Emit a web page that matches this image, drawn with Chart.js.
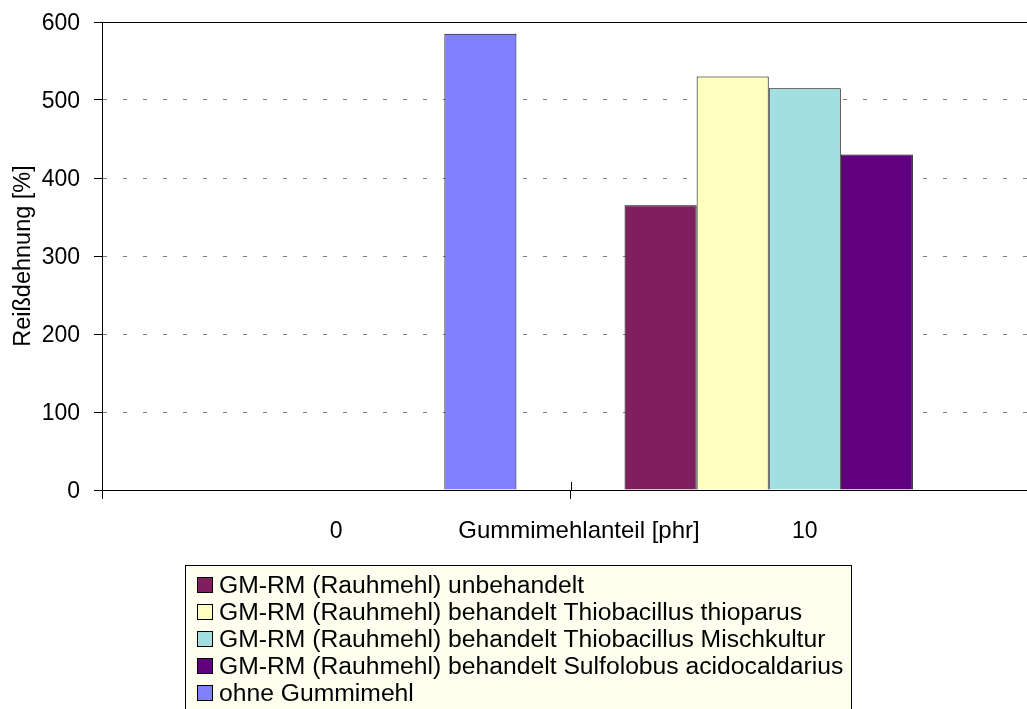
<!DOCTYPE html>
<html>
<head>
<meta charset="utf-8">
<script src="https://cdn.jsdelivr.net/npm/chart.js@4.4.1/dist/chart.umd.min.js"></script>
<style>
    body { margin: 0; overflow: hidden; background: #fff; }
    #wrap { width: 1060px; height: 709px; }
</style>
</head>
<body>
<div id="wrap"><canvas id="chartDehnung" width="1060" height="709"></canvas></div>
<script>
const categorias = ['0', '10'];
const tituloX = 'Gummimehlanteil [phr]';
const tituloY = 'Reißdehnung [%]';

const nomesSeries = [
    'GM-RM (Rauhmehl) unbehandelt',
    'GM-RM (Rauhmehl) behandelt Thiobacillus thioparus',
    'GM-RM (Rauhmehl) behandelt Thiobacillus Mischkultur',
    'GM-RM (Rauhmehl) behandelt Sulfolobus acidocaldarius',
    'ohne Gummimehl'
];
const unbehandelt = [null, 365];
const thioparus = [null, 530];
const mischkultur = [null, 515];
const sulfolobus = [null, 430];
const ohneGummimehl = [585, null];

const coresSeries = ['#7F1F5F', '#FFFFC0', '#A2E0E0', '#600080', '#8080FF'];

const yMin = 0;
const yMax = 600;
const yPasso = 100;

const valores = [unbehandelt, thioparus, mischkultur, sulfolobus, ohneGummimehl];

const fonte = 'Liberation Sans, Arial, sans-serif';

// linha de cima, marcas do eixo x para dentro, titulo do eixo x e legenda
const extras = {
    id: 'extras',
    afterDraw(chart) {
        const ctx = chart.ctx;
        const area = chart.chartArea;
        const xs = chart.scales.x;
        ctx.save();
        ctx.strokeStyle = '#000';
        ctx.lineWidth = 1;
        ctx.beginPath();
        ctx.moveTo(area.left, area.top + 0.5);
        ctx.lineTo(chart.width, area.top + 0.5);
        const largura = (xs.right - xs.left) / categorias.length;
        for (let i = 0; i <= categorias.length; i++) {
            const px = Math.round(xs.left + i * largura) + 0.5;
            ctx.moveTo(px, area.bottom - 8);
            ctx.lineTo(px, area.bottom);
        }
        ctx.stroke();

        ctx.fillStyle = '#000';
        ctx.font = '24px ' + fonte;
        ctx.textAlign = 'center';
        ctx.textBaseline = 'alphabetic';
        ctx.fillText(tituloX, 579, 538);

        // legenda
        const lx = 185, ly = 565, lw = 666, lh = 160;
        ctx.fillStyle = '#FFFFF0';
        ctx.fillRect(lx, ly, lw, lh);
        ctx.strokeRect(lx + 0.5, ly + 0.5, lw, lh);
        ctx.textAlign = 'left';
        ctx.font = '24.7px ' + fonte;
        chart.data.datasets.forEach((ds, i) => {
            const cy = 584 + i * 27;
            ctx.fillStyle = ds.backgroundColor;
            ctx.fillRect(197, cy - 7, 16, 16);
            ctx.strokeStyle = '#000';
            ctx.strokeRect(197.5, cy - 6.5, 15, 15);
            ctx.fillStyle = '#000';
            ctx.fillText(ds.label, 219, cy + 8.5);
        });
        ctx.restore();
    }
};

const ctx = document.getElementById('chartDehnung').getContext('2d');

new Chart(ctx, {
    type: 'bar',
    data: {
        labels: categorias,
        datasets: nomesSeries.map((nome, i) => ({
            label: nome,
            data: valores[i],
            backgroundColor: coresSeries[i],
            borderColor: '#000',
            borderWidth: 1,
            categoryPercentage: 5 / 6.5,
            barPercentage: 1
        }))
    },
    options: {
        responsive: false,
        animation: false,
        layout: { padding: { top: 22, right: 21, left: 0, bottom: 0 } },
        plugins: {
            legend: { display: false },
            tooltip: { enabled: false }
        },
        scales: {
            x: {
                afterFit: scale => { scale.height = 219; },
                grid: {
                    drawOnChartArea: false,
                    tickLength: 9,
                    tickColor: '#000',
                    offset: true
                },
                border: { color: '#000', width: 1 },
                ticks: {
                    color: '#000',
                    padding: 19,
                    font: { family: fonte, size: 23 }
                }
            },
            y: {
                min: yMin,
                max: yMax,
                afterFit: scale => { scale.width = 102; },
                grid: {
                    color: c => (c.tick && (c.tick.value === yMin || c.tick.value === yMax)) ? 'rgba(0,0,0,0)' : '#808080',
                    tickColor: '#000',
                    tickLength: 8
                },
                border: { color: '#000', width: 1, dash: [4, 16] },
                ticks: {
                    stepSize: yPasso,
                    color: '#000',
                    padding: 14,
                    labelOffset: 2,
                    font: { family: fonte, size: 23, lineHeight: 0.6 }
                },
                title: {
                    display: true,
                    text: tituloY,
                    color: '#000',
                    padding: { top: 9, bottom: 0 },
                    font: { family: fonte, size: 23.5 }
                }
            }
        }
    },
    plugins: [extras]
});
</script>
</body>
</html>
